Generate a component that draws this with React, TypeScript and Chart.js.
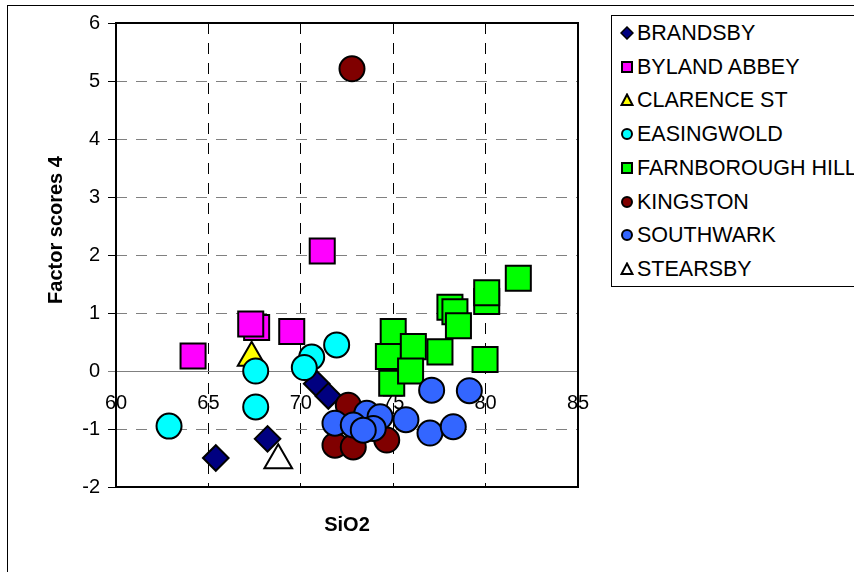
import React, { useEffect, useRef } from 'react';
import { Chart, registerables } from 'chart.js';

Chart.register(...registerables);

// ---------- data ----------
const seriesNames = ['BRANDSBY', 'BYLAND ABBEY', 'CLARENCE ST', 'EASINGWOLD', 'FARNBOROUGH HILL', 'KINGSTON', 'SOUTHWARK', 'STEARSBY'];
const seriesColors = ['#000080', '#FF00FF', '#FFFF00', '#00FFFF', '#00FF00', '#800000', '#3366FF', '#FFFFFF'];
const seriesShapes = ['rectRot', 'rect', 'triangle', 'circle', 'rect', 'circle', 'circle', 'triangle'];

const brandsbyX = [65.4, 68.2, 70.86, 71.49];
const brandsbyY = [-1.5, -1.17, -0.22, -0.43];

const bylandX = [64.17, 67.61, 67.29, 69.51, 71.16];
const bylandY = [0.26, 0.75, 0.81, 0.68, 2.07];

const clarenceX = [67.34];
const clarenceY = [0.23];

const easingwoldX = [62.87, 67.56, 67.56, 70.59, 70.19, 71.94];
const easingwoldY = [-0.95, 0.0, -0.62, 0.24, 0.06, 0.45];

const farnboroughX = [80.06, 80.06, 78.07, 78.34, 78.53, 81.77, 75.0, 74.74, 74.92, 77.53, 76.09, 75.94, 79.97];
const farnboroughY = [1.2, 1.35, 1.1, 1.02, 0.78, 1.6, 0.68, 0.25, -0.21, 0.33, 0.42, 0.0, 0.2];

const kingstonX = [72.77, 72.57, 71.85, 72.84, 74.65];
const kingstonY = [5.21, -0.59, -1.28, -1.31, -1.19];

const southwarkX = [71.85, 73.57, 74.29, 72.84, 73.92, 73.38, 75.69, 76.99, 78.25, 77.08, 79.12];
const southwarkY = [-0.9, -0.73, -0.79, -0.93, -0.99, -1.02, -0.84, -1.07, -0.96, -0.33, -0.34];

const stearsbyX = [68.78];
const stearsbyY = [-1.54];

const seriesX = [brandsbyX, bylandX, clarenceX, easingwoldX, farnboroughX, kingstonX, southwarkX, stearsbyX];
const seriesY = [brandsbyY, bylandY, clarenceY, easingwoldY, farnboroughY, kingstonY, southwarkY, stearsbyY];

const xTicks = [60, 65, 70, 75, 80, 85];
const yTicks = [-2, -1, 0, 1, 2, 3, 4, 5, 6];
const xTitle = 'SiO2';
const yTitle = 'Factor scores 4';

// ---------- styling ----------
const FONT = '"Liberation Sans", Arial, sans-serif';
const pointRadiusFor: Record<string, number> = { circle: 12.5, rect: 17.7, rectRot: 12.8, triangle: 16 };

const framePlugin = {
  id: 'frame',
  beforeDatasetsDraw(chart: any) {
    const { ctx, chartArea: a } = chart;
    ctx.save();
    ctx.strokeStyle = '#000';
    ctx.lineWidth = 2;
    ctx.strokeRect(a.left, a.top, a.right - a.left, a.bottom - a.top);
    ctx.restore();
  },
  afterDraw(chart: any) {
    const { ctx, chartArea: a } = chart;
    ctx.save();
    ctx.font = 'bold 20px ' + FONT;
    ctx.fillStyle = '#000';
    ctx.textAlign = 'center';
    ctx.textBaseline = 'middle';
    ctx.fillText(xTitle, (a.left + a.right) / 2, a.bottom + 38);
    ctx.translate(56, 230);
    ctx.rotate(-Math.PI / 2);
    ctx.fillText(yTitle, 0, 0);
    ctx.restore();
  },
};

function LegendMarker({ shape, color }: { shape: string; color: string }) {
  const s = 14;
  let el: any;
  if (shape === 'rectRot') el = <polygon points="7,1 13,7 7,13 1,7" fill={color} stroke="#000" strokeWidth={1.5} />;
  else if (shape === 'rect') el = <rect x={2} y={2} width={10} height={10} fill={color} stroke="#000" strokeWidth={2} />;
  else if (shape === 'triangle') el = <polygon points="7,1.5 12.5,12 1.5,12" fill={color} stroke="#000" strokeWidth={2} />;
  else el = <circle cx={7} cy={7} r={5} fill={color} stroke="#000" strokeWidth={2} />;
  return (
    <svg width={s} height={s} style={{ position: 'absolute', left: 0, top: 0 }}>
      {el}
    </svg>
  );
}

export default function App() {
  const ref = useRef<HTMLCanvasElement>(null);

  useEffect(() => {
    const datasets = seriesNames.map((name, i) => ({
      label: name,
      data: seriesX[i].map((x, j) => ({ x, y: seriesY[i][j] })),
      pointStyle: seriesShapes[i],
      pointRadius: pointRadiusFor[seriesShapes[i]],
      pointBackgroundColor: seriesColors[i],
      pointBorderColor: '#000',
      pointBorderWidth: 2,
      showLine: false,
      order: seriesNames.length - i,
    }));

    const chart = new Chart(ref.current as HTMLCanvasElement, {
      type: 'scatter',
      data: { datasets },
      plugins: [framePlugin],
      options: {
        animation: false,
        responsive: false,
        events: [],
        layout: { padding: { left: 0, top: 23, right: 276, bottom: 85 } },
        plugins: { legend: { display: false }, tooltip: { enabled: false } },
        scales: {
          x: {
            type: 'linear',
            position: { y: 0 } as any,
            min: 60,
            max: 85,
            afterBuildTicks: (scale: any) => {
              scale.ticks = xTicks.map((v) => ({ value: v }));
            },
            ticks: { color: '#000', font: { size: 20, family: FONT }, padding: 20, maxRotation: 0 },
            grid: { color: '#000', lineWidth: 1, drawTicks: false },
            border: { display: true, color: '#808080', width: 1, dash: [11, 9] },
          },
          y: {
            type: 'linear',
            position: 'left',
            min: -2,
            max: 6,
            afterBuildTicks: (scale: any) => {
              scale.ticks = yTicks.map((v) => ({ value: v }));
            },
            afterFit: (scale: any) => {
              scale.width = 116;
            },
            ticks: { color: '#000', font: { size: 20, family: FONT }, padding: 8 },
            grid: {
              color: '#808080',
              lineWidth: 1,
              tickLength: 8,
              tickColor: (c: any) => (c.tick && c.tick.value === 0 ? '#808080' : '#000'),
            },
            border: { display: false, dash: [11, 9] },
          },
        },
      } as any,
    });
    return () => chart.destroy();
  }, []);

  const legendLeft = 611;
  const legendTop = 15;
  const rowStart = 33;
  const rowStep = 33.7;

  return (
    <div style={{ position: 'absolute', left: 0, top: 0, width: 854, height: 572, overflow: 'hidden', background: '#fff' }}>
      <div style={{ position: 'absolute', left: 7, top: 5, width: 1000, height: 1000, borderLeft: '1px solid #000', borderTop: '1px solid #000' }} />
      <canvas ref={ref} width={854} height={572} style={{ position: 'absolute', left: 0, top: 0, width: 854, height: 572 }} />
      <div
        style={{
          position: 'absolute',
          left: legendLeft,
          top: legendTop,
          width: 400,
          height: 270,
          border: '1px solid #000',
          background: '#fff',
          fontFamily: FONT,
          fontSize: 21.5,
          color: '#000',
        }}
      >
        {seriesNames.map((name, i) => {
          const cy = rowStart + rowStep * i - legendTop - 1;
          return (
            <div key={name}>
              <div style={{ position: 'absolute', left: 627 - legendLeft - 1 - 7, top: cy - 7, width: 14, height: 14 }}>
                <LegendMarker shape={seriesShapes[i]} color={seriesColors[i]} />
              </div>
              <div style={{ position: 'absolute', left: 637 - legendLeft - 1, top: cy - 12, lineHeight: '24px', whiteSpace: 'nowrap' }}>
                {name}
              </div>
            </div>
          );
        })}
      </div>
    </div>
  );
}
